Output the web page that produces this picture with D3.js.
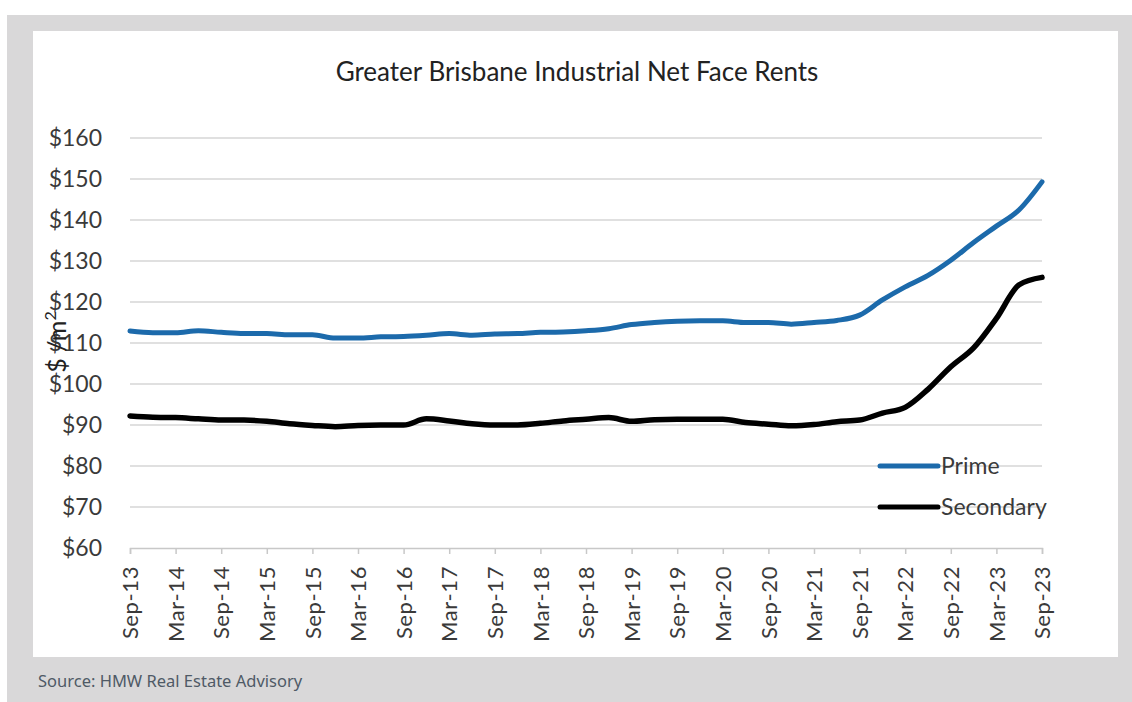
<!DOCTYPE html>
<html><head><meta charset="utf-8">
<script src="https://cdn.jsdelivr.net/npm/d3@7"></script>
<style>body{margin:0;background:#fff}svg{display:block}</style>
</head><body>
<svg id="c" width="1132" height="702"></svg>
<script>
const quarters = ["Sep-13","Dec-13","Mar-14","Jun-14","Sep-14","Dec-14","Mar-15","Jun-15","Sep-15","Dec-15",
"Mar-16","Jun-16","Sep-16","Dec-16","Mar-17","Jun-17","Sep-17","Dec-17","Mar-18","Jun-18",
"Sep-18","Dec-18","Mar-19","Jun-19","Sep-19","Dec-19","Mar-20","Jun-20","Sep-20","Dec-20",
"Mar-21","Jun-21","Sep-21","Dec-21","Mar-22","Jun-22","Sep-22","Dec-22","Mar-23","Jun-23","Sep-23"];
const prime = [112.9,112.5,112.5,113.0,112.6,112.3,112.3,112.0,112.0,111.2,
111.2,111.5,111.6,111.9,112.3,111.9,112.2,112.3,112.6,112.7,
113.0,113.5,114.5,115.0,115.3,115.4,115.4,115.0,115.0,114.6,
115.0,115.5,116.8,120.5,123.7,126.5,130.2,134.5,138.5,142.5,149.3];
const secondary = [92.2,91.9,91.8,91.5,91.2,91.2,90.9,90.3,89.9,89.6,
89.9,90.0,90.0,91.5,91.0,90.3,90.0,90.0,90.4,91.0,
91.4,91.8,90.9,91.3,91.4,91.4,91.4,90.6,90.2,89.8,
90.1,90.8,91.2,92.9,94.3,98.7,104.2,108.8,116.0,124.2,126.0];
const tickLabels = ["Sep-13","Mar-14","Sep-14","Mar-15","Sep-15","Mar-16","Sep-16","Mar-17","Sep-17","Mar-18",
"Sep-18","Mar-19","Sep-19","Mar-20","Sep-20","Mar-21","Sep-21","Mar-22","Sep-22","Mar-23","Sep-23"];
const yTicks = [60,70,80,90,100,110,120,130,140,150,160];
const seriesNames = ["Prime","Secondary"];
const title = "Greater Brisbane Industrial Net Face Rents";
const source = "Source: HMW Real Estate Advisory";

const svg = d3.select("#c");
const font = "Lato, 'Open Sans', sans-serif";
const textCol = "#3a3a3a";
svg.append("rect").attr("x",7).attr("y",15).attr("width",1125).attr("height",687).attr("fill","#d9d8d9");
svg.append("rect").attr("x",33).attr("y",31).attr("width",1085).attr("height",626).attr("fill","#fff");

const x = d3.scalePoint().domain(quarters).range([130,1042]);
const y = d3.scaleLinear().domain([60,160]).range([548,138]);

// gridlines
svg.append("g").selectAll("line").data(yTicks.slice(1)).join("line")
  .attr("x1",130).attr("x2",1042).attr("y1",d=>y(d)).attr("y2",d=>y(d))
  .attr("stroke","#d6d6d6").attr("stroke-width",1.5);

// y axis labels
const yAxis = d3.axisLeft(y).tickValues(yTicks).tickFormat(d=>"$"+d).tickSize(0).tickPadding(28);
const gy = svg.append("g").attr("transform","translate(130,0)").call(yAxis);
gy.select(".domain").remove();
gy.selectAll("text").attr("font-family",font).attr("font-size",23).attr("fill",textCol);

// x axis
const xAxis = d3.axisBottom(x).tickValues(quarters.filter((q,i)=>i%2===0)).tickFormat((d,i)=>tickLabels[i]).tickSize(6).tickPadding(6);
const gx = svg.append("g").attr("transform","translate(0,548)").call(xAxis);
gx.select(".domain").attr("stroke","#c8c8c8").attr("stroke-width",1.5);
gx.selectAll(".tick line").attr("stroke","#c8c8c8").attr("stroke-width",1.5);
gx.selectAll("text").attr("font-family",font).attr("font-size",22).attr("fill",textCol).attr("letter-spacing",0.6)
  .attr("transform","rotate(-90)").attr("text-anchor","end").attr("dy","0.35em").attr("x",-18).attr("y",0);

// lines
const line = d3.line().x((d,i)=>x(quarters[i])).y(d=>y(d)).curve(d3.curveMonotoneX);
svg.append("path").datum(prime).attr("d",line).attr("fill","none").attr("stroke","#1c6aab").attr("stroke-width",5).attr("stroke-linecap","round").attr("stroke-linejoin","round");
svg.append("path").datum(secondary).attr("d",line).attr("fill","none").attr("stroke","#000").attr("stroke-width",5.5).attr("stroke-linecap","round").attr("stroke-linejoin","round");

// legend
const leg = [{n:seriesNames[0],c:"#1c6aab",v:y(80)},{n:seriesNames[1],c:"#000",v:y(70)}];
leg.forEach(l=>{
  svg.append("line").attr("x1",880).attr("x2",938).attr("y1",l.v).attr("y2",l.v).attr("stroke",l.c).attr("stroke-width",5).attr("stroke-linecap","round");
  svg.append("text").attr("x",941).attr("y",l.v).attr("dy","0.35em").attr("font-family",font).attr("font-size",23).attr("fill",textCol).text(l.n);
});

// title
svg.append("text").attr("x",577).attr("y",81).attr("text-anchor","middle").attr("font-family",font).attr("font-size",26).attr("fill","#222").text(title);

// y title
const yt = svg.append("text").attr("transform","translate(66,342) rotate(-90)").attr("text-anchor","middle")
  .attr("font-family",font).attr("font-size",25).attr("fill","#222");
yt.append("tspan").text("$ /m");
yt.append("tspan").attr("font-size",16).attr("dy",-10).text("2");

// source
svg.append("text").attr("x",38).attr("y",687).attr("font-family","'Noto Sans', 'Open Sans', sans-serif").attr("font-size",16.5).attr("fill","#4f5a66").text(source);
</script>
</body></html>
